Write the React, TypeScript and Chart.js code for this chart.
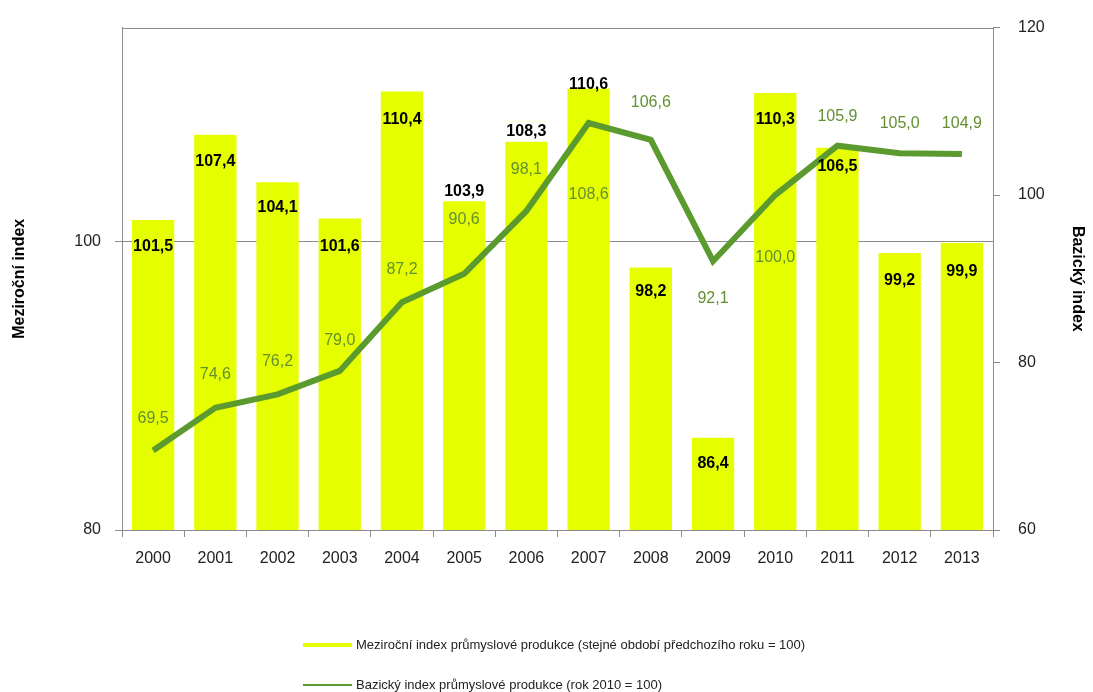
import React, { useEffect, useRef } from "react";
import { Chart, registerables } from "chart.js";

Chart.register(...registerables);

const categories = ["2000", "2001", "2002", "2003", "2004", "2005", "2006", "2007", "2008", "2009", "2010", "2011", "2012", "2013"];
const yoyIndex = [101.5, 107.4, 104.1, 101.6, 110.4, 103.9, 108.3, 110.6, 98.2, 86.4, 110.3, 106.5, 99.2, 99.9];
const baseIndex = [69.5, 74.6, 76.2, 79.0, 87.2, 90.6, 98.1, 108.6, 106.6, 92.1, 100.0, 105.9, 105.0, 104.9];
const leftTicks = [80, 100];
const rightTicks = [60, 80, 100, 120];

const yoyLabel = "Meziroční index průmyslové produkce (stejné období předchozího roku = 100)";
const baseLabel = "Bazický index průmyslové produkce (rok 2010 = 100)";

// label placement tweaks (pixels, relative to the mark)
const barLabelDy = [27, 27, 25, 28, 28, 6, 10, -4, 24, 26, 27, 19, 28, 29];
const barLabelBg = [false, false, false, false, false, true, true, false, false, false, false, false, false, false];
const lineLabelDy = [-32, -33, -33, -30, -33, -54, -41, 72, -37, 37, 63, -29, -30, -30];

const BAR_COLOR = "#E6FF00";
const LINE_COLOR = "#5B9A2E";
const LINE_LABEL_COLOR = "#62902F";
const AXIS_COLOR = "#8C8C8C";
const FONT = "'Liberation Sans', Arial, sans-serif";

const fmt = (v: number) => v.toFixed(1).replace(".", ",");

const frame = {
  id: "frame",
  beforeDatasetsDraw(chart: any) {
    const { ctx, chartArea } = chart;
    ctx.save();
    ctx.strokeStyle = AXIS_COLOR;
    ctx.lineWidth = 1;
    ctx.strokeRect(Math.round(chartArea.left) + 0.5, Math.round(chartArea.top) + 0.5, Math.round(chartArea.right - chartArea.left), Math.round(chartArea.bottom - chartArea.top));
    ctx.restore();
  },
};

const valueLabels = {
  id: "valueLabels",
  afterDatasetsDraw(chart: any) {
    const { ctx } = chart;
    ctx.save();
    ctx.textAlign = "center";
    ctx.textBaseline = "middle";
    const barMeta = chart.getDatasetMeta(0);
    ctx.font = `bold 16px ${FONT}`;
    barMeta.data.forEach((el: any, i: number) => {
      const txt = fmt(yoyIndex[i]);
      const y = el.y + barLabelDy[i];
      if (barLabelBg[i]) {
        const w = ctx.measureText(txt).width + 4;
        ctx.fillStyle = "#ffffff";
        ctx.fillRect(el.x - w / 2, y - 10, w, 20);
      }
      ctx.fillStyle = "#000000";
      ctx.fillText(txt, el.x, y);
    });
    const lineMeta = chart.getDatasetMeta(1);
    ctx.font = `16px ${FONT}`;
    ctx.fillStyle = LINE_LABEL_COLOR;
    lineMeta.data.forEach((el: any, i: number) => {
      ctx.fillText(fmt(baseIndex[i]), el.x, el.y + lineLabelDy[i]);
    });
    ctx.restore();
  },
};

const bottomLegend = {
  id: "bottomLegend",
  afterDraw(chart: any) {
    const { ctx } = chart;
    const ds = chart.data.datasets;
    ctx.save();
    ctx.font = `13px ${FONT}`;
    ctx.textBaseline = "middle";
    ctx.textAlign = "left";
    const rows = [
      { y: 645, color: ds[0].backgroundColor, width: 4, text: ds[0].label },
      { y: 685, color: ds[1].borderColor, width: 2, text: ds[1].label },
    ];
    rows.forEach((r) => {
      ctx.strokeStyle = r.color;
      ctx.lineWidth = r.width;
      ctx.beginPath();
      ctx.moveTo(303, r.y);
      ctx.lineTo(352, r.y);
      ctx.stroke();
      ctx.fillStyle = "#222222";
      ctx.fillText(r.text, 356, r.y);
    });
    ctx.restore();
  },
};

export default function App() {
  const ref = useRef<HTMLCanvasElement | null>(null);

  useEffect(() => {
    if (!ref.current) return;
    const chart = new Chart(ref.current, {
      type: "bar",
      data: {
        labels: categories,
        datasets: [
          {
            type: "bar",
            label: yoyLabel,
            data: yoyIndex,
            backgroundColor: BAR_COLOR,
            borderWidth: 0,
            yAxisID: "y",
            barPercentage: 0.68,
            categoryPercentage: 1,
            order: 1,
          },
          {
            type: "line",
            label: baseLabel,
            data: baseIndex,
            borderColor: LINE_COLOR,
            backgroundColor: LINE_COLOR,
            borderWidth: 6,
            pointRadius: 0,
            tension: 0,
            yAxisID: "y1",
            order: 0,
          },
        ] as any,
      },
      options: {
        responsive: false,
        animation: false,
        layout: { padding: { top: 19, bottom: 92, left: 0, right: 0 } },
        plugins: {
          legend: { display: false },
          tooltip: { enabled: false },
        },
        scales: {
          x: {
            grid: { display: true, drawOnChartArea: false, offset: true, color: AXIS_COLOR, tickLength: 7 },
            border: { color: AXIS_COLOR },
            ticks: { color: "#222", font: { family: FONT, size: 16 }, padding: 12, maxRotation: 0 },
            afterFit: (s: any) => { s.height = 70; },
          },
          y: {
            position: "left",
            min: 80,
            max: 114.83,
            afterBuildTicks: (s: any) => { s.ticks = leftTicks.map((v) => ({ value: v })); },
            grid: { color: AXIS_COLOR, tickLength: 7 },
            border: { color: AXIS_COLOR },
            ticks: { color: "#222", font: { family: FONT, size: 16 }, padding: 14 },
            title: { display: true, text: "Meziroční index", color: "#000", font: { family: FONT, size: 16, weight: "bold" }, padding: { top: 10, bottom: 0 } },
            afterFit: (s: any) => { s.width = 122; },
          },
          y1: {
            position: "right",
            min: 60,
            max: 120,
            afterBuildTicks: (s: any) => { s.ticks = rightTicks.map((v) => ({ value: v })); },
            grid: { drawOnChartArea: false, color: AXIS_COLOR, tickLength: 7 },
            border: { color: AXIS_COLOR },
            ticks: { color: "#222", font: { family: FONT, size: 16 }, padding: 18 },
            title: { display: true, text: "Bazický index", color: "#000", font: { family: FONT, size: 16, weight: "bold" }, padding: { top: 6, bottom: 0 } },
            afterFit: (s: any) => { s.width = 100; },
          },
        },
      } as any,
      plugins: [frame, valueLabels, bottomLegend],
    });
    return () => chart.destroy();
  }, []);

  return (
    <div style={{ position: "fixed", left: 0, top: 0, width: 1093, height: 692, background: "#fff", overflow: "hidden" }}>
      <canvas ref={ref} width={1093} height={692} style={{ width: 1093, height: 692, display: "block" }} />
    </div>
  );
}
